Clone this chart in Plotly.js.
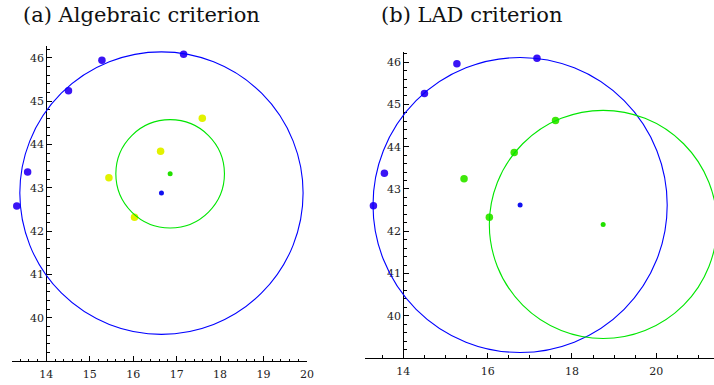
<!DOCTYPE html>
<html>
<head>
<meta charset="utf-8">
<script src="https://cdn.plot.ly/plotly-3.0.1.min.js"></script>
<style>html,body{margin:0;padding:0;background:#fff;}#chart{width:714px;height:385px;}</style>
</head>
<body>
<div id="chart"></div>
<script>
// Panel (a): Algebraic criterion
const blueXa = [17.16, 15.28, 14.51, 13.57, 13.32];
const blueYa = [46.08, 45.94, 45.24, 43.36, 42.58];
const yellowXa = [17.59, 16.63, 15.44, 16.03];
const yellowYa = [44.60, 43.84, 43.23, 42.32];
const blueCircleA = [16.65, 42.875, 3.26];   // cx, cy, r
const greenCircleA = [16.85, 43.32, 1.25];

// Panel (b): LAD criterion
const blueXb = [17.17, 15.27, 14.50, 13.55, 13.29];
const blueYb = [46.09, 45.96, 45.26, 43.37, 42.60];
const greenXb = [17.61, 16.63, 15.44, 16.04];
const greenYb = [44.62, 43.86, 43.24, 42.33];
const blueCircleB = [16.77, 42.62, 3.49];
const greenCircleB = [18.74, 42.16, 2.70];

// Tick labels
const xTicksA = [14, 15, 16, 17, 18, 19, 20];
const yTicksA = [40, 41, 42, 43, 44, 45, 46];
const xTicksB = [14, 16, 18, 20];
const yTicksB = [40, 41, 42, 43, 44, 45, 46];

const titles = ["(a) Algebraic criterion", "(b) LAD criterion"];

const W = 714, H = 385;
const serif = "DejaVu Serif, serif";

function dots(x, y, color, size, xa, ya) {
  return {x: x, y: y, type: 'scatter', mode: 'markers', xaxis: xa, yaxis: ya,
    marker: {color: color, size: size, line: {width: 0}}, showlegend: false, hoverinfo: 'skip', cliponaxis: false};
}
function circle(c, color, xref, yref) {
  return {type: 'circle', xref: xref, yref: yref, x0: c[0] - c[2], x1: c[0] + c[2], y0: c[1] - c[2], y1: c[1] + c[2],
    line: {color: color, width: 1.1}, layer: 'above'};
}

const data = [
  dots(blueXa, blueYa, '#3a14f5', 7.5, 'x', 'y'),
  dots(yellowXa, yellowYa, '#e2f200', 7.5, 'x', 'y'),
  dots([blueCircleA[0]], [blueCircleA[1]], '#1010f0', 5, 'x', 'y'),
  dots([greenCircleA[0]], [greenCircleA[1]], '#22e000', 5, 'x', 'y'),
  dots(blueXb, blueYb, '#3a14f5', 7.5, 'x2', 'y2'),
  dots(greenXb, greenYb, '#3ee80a', 7.5, 'x2', 'y2'),
  dots([blueCircleB[0]], [blueCircleB[1]], '#1010f0', 5, 'x2', 'y2'),
  dots([greenCircleB[0]], [greenCircleB[1]], '#22e000', 5, 'x2', 'y2')
];

function axis(extra) {
  return Object.assign({
    showgrid: false, zeroline: false, showline: true, linecolor: '#000', linewidth: 1,
    ticks: 'inside', ticklen: 5, tickwidth: 1, tickcolor: '#000',
    tickfont: {family: serif, size: 11, color: '#222'}, tickmode: 'array', fixedrange: true
  }, extra);
}

const layout = {
  width: W, height: H,
  margin: {l: 0, r: 0, t: 0, b: 0},
  paper_bgcolor: '#fff', plot_bgcolor: 'rgba(0,0,0,0)',
  font: {family: serif},
  showlegend: false,
  xaxis: axis({domain: [12 / W, 307 / W], range: [13.21, 20.0], anchor: 'y', tickvals: xTicksA, ticklabelstandoff: 3,
    minor: {dtick: 0.2, tick0: 0, ticks: 'inside', ticklen: 2.5, tickcolor: '#000', tickwidth: 1}}),
  yaxis: axis({domain: [(H - 361) / H, (H - 46) / H], range: [39.0, 46.27], anchor: 'free', position: 46.3 / W, tickvals: yTicksA,
    minor: {dtick: 0.2, tick0: 0, ticks: 'inside', ticklen: 2.5, tickcolor: '#000', tickwidth: 1}}),
  xaxis2: axis({domain: [365 / W, 1.0], range: [13.09, 21.37], anchor: 'y2', tickvals: xTicksB, ticklabelstandoff: 3,
    minor: {dtick: 0.5, tick0: 0, ticks: 'inside', ticklen: 3, tickcolor: '#000', tickwidth: 1}}),
  yaxis2: axis({domain: [(H - 358) / H, (H - 52) / H], range: [39.0, 46.24], anchor: 'free', position: 403.3 / W, tickvals: yTicksB,
    minor: {dtick: 0.2, tick0: 0, ticks: 'inside', ticklen: 2.5, tickcolor: '#000', tickwidth: 1}}),
  shapes: [
    circle(blueCircleA, '#0000ff', 'x', 'y'),
    circle(greenCircleA, '#00e600', 'x', 'y'),
    circle(blueCircleB, '#0000ff', 'x2', 'y2'),
    circle(greenCircleB, '#00e600', 'x2', 'y2')
  ],
  annotations: [
    {text: titles[0], xref: 'paper', yref: 'paper', x: 21 / W, y: (H - 15) / H, xanchor: 'left', yanchor: 'middle',
      showarrow: false, font: {family: serif, size: 21, color: '#111'}},
    {text: titles[1], xref: 'paper', yref: 'paper', x: 379 / W, y: (H - 15) / H, xanchor: 'left', yanchor: 'middle',
      showarrow: false, font: {family: serif, size: 21, color: '#111'}}
  ]
};

Plotly.newPlot('chart', data, layout, {staticPlot: true, displayModeBar: false});
</script>
</body>
</html>
